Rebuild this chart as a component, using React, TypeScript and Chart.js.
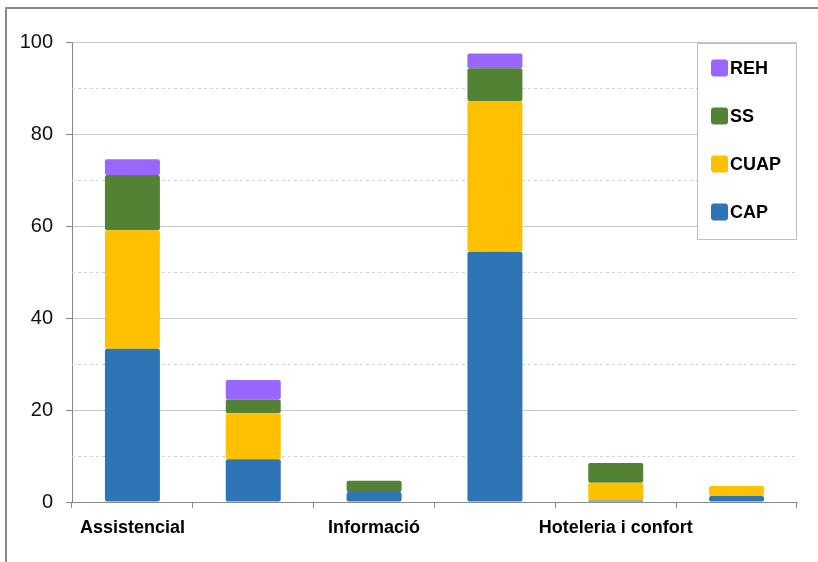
import React, { useEffect, useRef } from "react";
import { Chart, registerables } from "chart.js";

Chart.register(...registerables);

const categories = ["Assistencial", "", "Informació", "", "Hoteleria i confort", ""];
const seriesNames = ["CAP", "CUAP", "SS", "REH"];
const CAP = [33.3, 9.3, 2.2, 54.4, 0.3, 1.3];
const CUAP = [25.8, 10.0, 0, 32.8, 3.9, 2.2];
const SS = [12.0, 3.0, 2.4, 7.1, 4.3, 0];
const REH = [3.4, 4.2, 0, 3.2, 0, 0];
const seriesColors = ["#2E75B6", "#FFC000", "#548235", "#9966FF"];
const minorTicks = [10, 30, 50, 70, 90];

const BOLDFONT = "'Liberation Sans', Arial, sans-serif";
const REGULAR = "'Liberation Sans', Arial, sans-serif";

const extrasPlugin = {
  id: "extras",
  beforeDatasetsDraw(chart: any) {
    const { ctx, chartArea, scales } = chart;
    ctx.save();
    ctx.strokeStyle = "#d4d4d4";
    ctx.lineWidth = 1;
    ctx.setLineDash([3, 3]);
    for (const v of minorTicks) {
      const y = Math.round(scales.y.getPixelForValue(v)) + 0.5;
      ctx.beginPath();
      ctx.moveTo(chartArea.left, y);
      ctx.lineTo(chartArea.right, y);
      ctx.stroke();
    }
    ctx.restore();
  },
  afterDraw(chart: any) {
    const { ctx, chartArea } = chart;
    ctx.save();
    const left = chartArea.right - 100;
    const top = chartArea.top + 1;
    const w = 99;
    const h = 196;
    ctx.fillStyle = "#ffffff";
    ctx.fillRect(left, top, w, h);
    ctx.strokeStyle = "#bfbfbf";
    ctx.lineWidth = 1;
    ctx.strokeRect(left + 0.5, top + 0.5, w, h);
    const ds = chart.data.datasets.slice().reverse();
    ds.forEach((d: any, i: number) => {
      const cy = top + 25 + i * 48;
      ctx.fillStyle = d.backgroundColor;
      ctx.beginPath();
      (ctx as any).roundRect(left + 14, cy - 8.5, 17, 17, 3);
      ctx.fill();
      ctx.fillStyle = "#000000";
      ctx.font = `bold 18px ${BOLDFONT}`;
      ctx.textBaseline = "middle";
      ctx.textAlign = "left";
      ctx.fillText(d.label, left + 33, cy + 1);
    });
    ctx.strokeStyle = "#8a8a8a";
    ctx.lineWidth = 2;
    ctx.beginPath();
    ctx.moveTo(6, chart.height + 2);
    ctx.lineTo(6, 8);
    ctx.lineTo(chart.width + 2, 8);
    ctx.stroke();
    ctx.restore();
  },
};

export default function App() {
  const ref = useRef<HTMLCanvasElement>(null);
  useEffect(() => {
    document.body.style.margin = "0";
    const values = [CAP, CUAP, SS, REH];
    const chart = new Chart(ref.current!, {
      type: "bar",
      data: {
        labels: categories,
        datasets: seriesNames.map((name, i) => ({
          label: name,
          data: values[i],
          backgroundColor: seriesColors[i],
          borderWidth: 0,
          borderSkipped: false,
          borderRadius: { topLeft: 2, topRight: 2, bottomLeft: 2, bottomRight: 2 },
          barPercentage: 0.455,
          categoryPercentage: 1,
        })),
      },
      options: {
        responsive: false,
        animation: false,
        layout: { padding: { left: 0, top: 42, right: 21, bottom: 0 } },
        plugins: { legend: { display: false }, tooltip: { enabled: false } },
        scales: {
          x: {
            stacked: true,
            grid: {
              offset: true,
              drawOnChartArea: false,
              drawTicks: true,
              tickLength: 6,
              tickColor: "#8a8a8a",
              color: "#8a8a8a",
            },
            border: { color: "#8a8a8a", width: 1 },
            ticks: {
              font: { family: BOLDFONT, size: 18, weight: "bold" },
              color: "#000000",
              padding: 9,
              maxRotation: 0,
              autoSkip: false,
            },
            afterFit: (s: any) => {
              s.height = 60;
            },
          },
          y: {
            stacked: true,
            min: 0,
            max: 100,
            ticks: {
              stepSize: 20,
              font: { family: REGULAR, size: 20 },
              color: "#111111",
              padding: 13,
            },
            grid: { color: "#c8c8c8", tickColor: "#8a8a8a", tickLength: 6 },
            border: { color: "#8a8a8a", width: 1 },
            afterFit: (s: any) => {
              s.width = 72;
            },
          },
        },
      },
      plugins: [extrasPlugin],
    });
    return () => chart.destroy();
  }, []);
  return (
    <canvas
      ref={ref}
      width={818}
      height={562}
      style={{ display: "block", width: 818, height: 562 }}
    />
  );
}
